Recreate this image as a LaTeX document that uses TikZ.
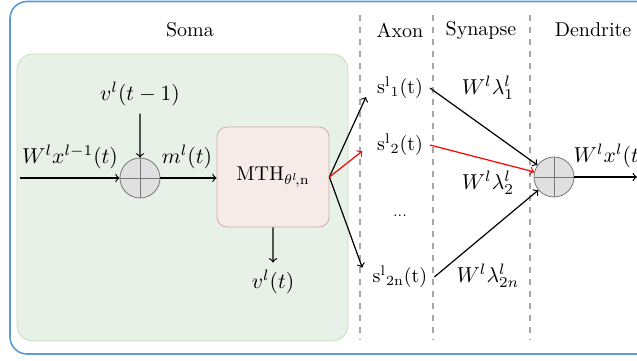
\documentclass[tikz,border=0pt]{standalone}
\usetikzlibrary{shapes}
\definecolor{framecol}{HTML}{5B9BD5}
\definecolor{somafill}{HTML}{E8F1E7}
\definecolor{somaline}{HTML}{C6DDBB}
\definecolor{mthfill}{HTML}{F6EBE7}
\definecolor{mthline}{HTML}{D6ABA4}
\definecolor{sumfill}{HTML}{E0E0E0}
\definecolor{sumline}{HTML}{777777}
\definecolor{dashcol}{HTML}{A6A6A6}

\begin{document}
\begin{tikzpicture}[x=0.5pt,y=-0.5pt]
\tikzset{
	sumnode/.style={draw=sumline,
		fill=sumfill,
		shape=circle,
		minimum size=20pt,
		inner sep=0pt,
		path picture={\draw[sumline] (path picture bounding box.north) -- (path picture bounding box.south)
			(path picture bounding box.west) -- (path picture bounding box.east);}
	},
	mthbox/.style={draw=mthline,
		fill=mthfill,
		rounded corners=5pt,
		minimum width=56pt,
		minimum height=50pt
	},
	layerline/.style={draw=dashcol, dashed, semithick},
	conn/.style={->, semithick},
	mathlbl/.style={scale=1.08}
}
\clip (0,0) rectangle (637,360);
\draw[framecol, line width=0.8pt, rounded corners=8.5pt] (10,1.5) rectangle (660,354);
\draw[draw=somaline, fill=somafill, rounded corners=8pt] (17,54) rectangle (348,341);
\draw[layerline] (360,15) -- (360,340);
\draw[layerline] (433,15) -- (433,340);
\draw[layerline] (530,15) -- (530,340);
\node[] (SOMALBL) at (190,30) {Soma};
\node[] (AXONLBL) at (400,30) {Axon};
\node[] (SYNLBL) at (481,30) {Synapse};
\node[] (DENDLBL) at (593,30) {Dendrite};

\node[mathlbl] (VPREV) at (140,94) {$v^{l}(t-1)$};
\node[sumnode] (SUM1) at (140,178) {};
\coordinate (IN) at (20,178);
\node[mathlbl] (INLBL) at (70,157) {$W^{l}x^{l-1}(t)$};
\node[mathlbl] (MLBL) at (187,157) {$m^{l}(t)$};
\node[mthbox] (MTH) at (273,177) {$\mathrm{MTH}_{\theta^{l}\!,\mathrm{n}}$};
\node[mathlbl] (VOUT) at (273,282) {$v^{l}(t)$};

\node[] (S1) at (400,88) {$\mathrm{s^{l}{}_{1}(t)}$};
\node[] (S2) at (400,145) {$\mathrm{s^{l}{}_{2}(t)}$};
\node[] (DOTS) at (400,216) {\scriptsize ...};
\node[] (S2N) at (400,277) {$\mathrm{s^{l}{}_{2n}(t)}$};

\node[sumnode] (SUM2) at (554,177) {};
\node[mathlbl] (L1LBL) at (488,88) {$W^{l}\lambda^{l}_{1}$};
\node[mathlbl] (L2LBL) at (488,183) {$W^{l}\lambda^{l}_{2}$};
\node[mathlbl] (L2NLBL) at (488,276) {$W^{l}\lambda^{l}_{2n}$};
\node[mathlbl, anchor=west] (OUTLBL) at (566,156) {$W^{l}x^{l}(t)$};
\coordinate (OUT) at (637,177);

{\draw[conn] (IN) -- (SUM1);}
{\draw[conn] (VPREV) -- (SUM1);}
{\draw[conn] (SUM1) -- (SUM1 -| MTH.west);}
{\draw[conn] (MTH) -- (VOUT);}
{\draw[conn, shorten >=5pt] (MTH.east) -- (S1.west);}
{\draw[conn, red, shorten >=5pt] (MTH.east) -- (S2.west);}
{\draw[conn, shorten >=5pt] (MTH.east) -- (S2N.west);}
{\draw[conn] (S1.east) -- (SUM2);}
{\draw[conn, red] (S2.east) -- (SUM2);}
{\draw[conn] (S2N.east) -- (SUM2);}
{\draw[conn] (SUM2) -- (OUT);}

\end{tikzpicture}
\end{document}
